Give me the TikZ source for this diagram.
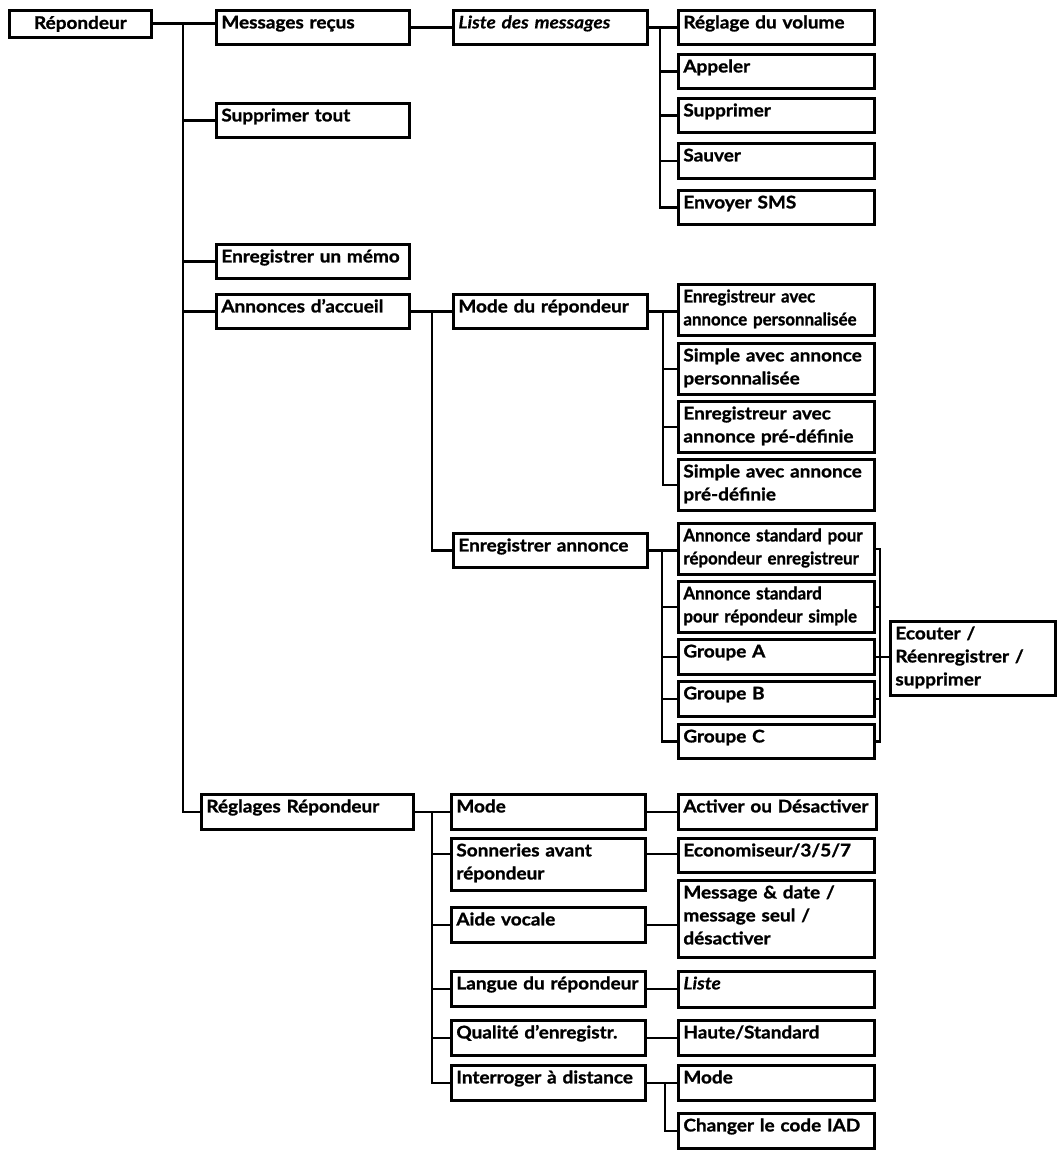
\documentclass[tikz,border=0pt]{standalone}
\usepackage{fontspec}
\newfontfamily\menufont{Lato}[FakeStretch=1.09,
  BoldFeatures={FakeBold=1.2}, BoldItalicFeatures={FakeBold=0.4}]
\newfontfamily\narrowfont{Lato}[FakeStretch=0.97, BoldFeatures={FakeBold=1.2}]
\hyphenpenalty=10000
\exhyphenpenalty=10000

\tikzset{
  menu/.style={draw, anchor=north west, inner xsep=5pt, inner ysep=0pt,
    align=left, text height=18pt, text depth=16pt,
    font=\menufont\bfseries\fontsize{17.4}{23}\selectfont},
  two/.style={text depth=33pt},
  c1/.style={text width=183pt},
  c2/.style={text width=184pt},
  c3/.style={text width=186pt},
}

\begin{document}
\begin{tikzpicture}[x=1pt,y=-1pt,line width=2.8pt]
\useasboundingbox (0,0) rectangle (1057,1153);
%
\node[menu,inner xsep=0pt,minimum width=142pt,minimum height=27pt,
  text height=13pt,text depth=3pt,align=center] (rep) at (8,9) {Répondeur};
%
\node[menu,c1] (msg) at (215,9) {Messages reçus};
\node[menu,c1] (supt) at (215,102) {Supprimer tout};
\node[menu,c1] (memo) at (215,243) {Enregistrer un mémo};
\node[menu,c1] (ann) at (215,293) {Annonces d’accueil};
\node[menu,text width=202pt,text depth=17pt] (regl) at (200,793) {Réglages Répondeur};
%
\node[menu,c2] (liste) at (452,9) {\itshape Liste des messages};
\node[menu,c2] (modrep) at (452,293) {Mode du répondeur};
\node[menu,c2] (enrann) at (452,532) {Enregistrer annonce};
\node[menu,c2,text depth=17pt] (mode) at (450,793) {Mode};
\node[menu,c2,text depth=34pt] (sonn) at (450,837) {Sonneries avant\\répondeur};
\node[menu,c2,text depth=17pt] (aide) at (450,906) {Aide vocale};
\node[menu,c2,text depth=17pt] (langue) at (450,970) {Langue du répondeur};
\node[menu,c2,text depth=17pt] (qual) at (450,1019) {Qualité d’enregistr.};
\node[menu,c2,text depth=17pt] (iad) at (450,1064) {Interroger à distance};
%
\node[menu,c3] (vol) at (677,9) {Réglage du volume};
\node[menu,c3] (app) at (677,53) {Appeler};
\node[menu,c3] (supp) at (677,97) {Supprimer};
\node[menu,c3,text depth=17pt] (sauv) at (677,142) {Sauver};
\node[menu,c3] (sms) at (677,189) {Envoyer SMS};
%
\node[menu,c3,two] (perso1) at (677,283) {\narrowfont Enregistreur avec\\annonce personnalisée};
\node[menu,c3,two] (perso2) at (677,342) {Simple avec annonce\\personnalisée};
\node[menu,c3,two] (defi1) at (677,400) {Enregistreur avec\\annonce pré-définie};
\node[menu,c3,two] (defi2) at (677,458) {Simple avec annonce\\pré-définie};
%
\node[menu,c3,two] (std1) at (677,522) {\narrowfont Annonce standard pour\\répondeur enregistreur};
\node[menu,c3,two] (std2) at (677,580) {\narrowfont Annonce standard\\pour répondeur simple};
\node[menu,c3,text depth=17pt] (grpa) at (677,638) {Groupe A};
\node[menu,c3,text depth=17pt] (grpb) at (677,680) {Groupe B};
\node[menu,c3] (grpc) at (677,723) {Groupe C};
\node[menu,text width=155pt,text depth=56pt] (ecou) at (889,620) {Ecouter /\\Réenregistrer /\\supprimer};
%
\node[menu,text width=188pt,text depth=17pt] (actv) at (677,793) {Activer ou Désactiver};
\node[menu,c3] (eco) at (677,837) {Economiseur/3/5/7};
\node[menu,c3,text depth=59pt] (msgd) at (677,879) {Message \& date /\\message seul /\\désactiver};
\node[menu,c3,text depth=18pt] (lst) at (677,970) {\itshape Liste};
\node[menu,c3,text depth=17pt] (haute) at (677,1019) {Haute/Standard};
\node[menu,c3,text depth=17pt] (iadmode) at (677,1064) {Mode};
\node[menu,c3,text depth=17pt] (code) at (677,1112) {Changer le code IAD};
%
\coordinate (t1) at (183,0);
\coordinate (t2) at (660,0);
\coordinate (t3) at (432,0);
\coordinate (t4) at (663,0);
\coordinate (t5) at (662,0);
\coordinate (t6) at (880,0);
\coordinate (t7) at (432,0);
\coordinate (t8) at (665,0);
\coordinate (sonnl) at ([yshift=-17pt]sonn.north west);
\coordinate (sonnr) at ([yshift=-17pt]sonn.north east);
%
% Répondeur
\draw (rep.east) -- (rep.east -| msg.west);
\draw (rep.east -| t1) |- (regl.west);
\foreach \n in {supt,memo,ann} \draw (t1 |- \n.west) -- (\n.west);
% Messages reçus
\draw (msg.east) -- (liste.west);
\draw (liste.east) -- (vol.west);
\draw (liste.east -| t2) |- (sms.west);
\foreach \n in {app,supp,sauv} \draw (t2 |- \n.west) -- (\n.west);
% Annonces d'accueil
\draw (ann.east) -- (modrep.west);
\draw (ann.east -| t3) |- (enrann.west);
\draw (modrep.east) -- (modrep.east -| perso1.west);
\draw (modrep.east -| t4) |- (defi2.west);
\foreach \n in {perso2,defi1} \draw (t4 |- \n.west) -- (\n.west);
\draw (enrann.east) -- (enrann.east -| std1.west);
\draw (enrann.east -| t5) |- (grpc.west);
\foreach \n in {std2,grpa,grpb} \draw (t5 |- \n.west) -- (\n.west);
\draw (std1.east) -| (t6 |- grpc.east) -- (grpc.east);
\foreach \n in {std2,grpb} \draw (\n.east) -- (t6 |- \n.east);
\draw (grpa.east) -- (grpa.east -| ecou.west);
% Réglages Répondeur
\draw (regl.east) -- (mode.west);
\draw (regl.east -| t7) |- (iad.west);
\draw (t7 |- sonnl) -- (sonnl);
\foreach \n in {aide,langue,qual} \draw (t7 |- \n.west) -- (\n.west);
\draw (mode.east) -- (mode.east -| actv.west);
\draw (sonnr) -- (sonnr -| eco.west);
\draw (aide.east) -- (aide.east -| msgd.west);
\draw (langue.east) -- (langue.east -| lst.west);
\draw (qual.east) -- (haute.west);
\draw (iad.east) -- (iadmode.west);
\draw (iad.east -| t8) |- (code.west);
\end{tikzpicture}
\end{document}
